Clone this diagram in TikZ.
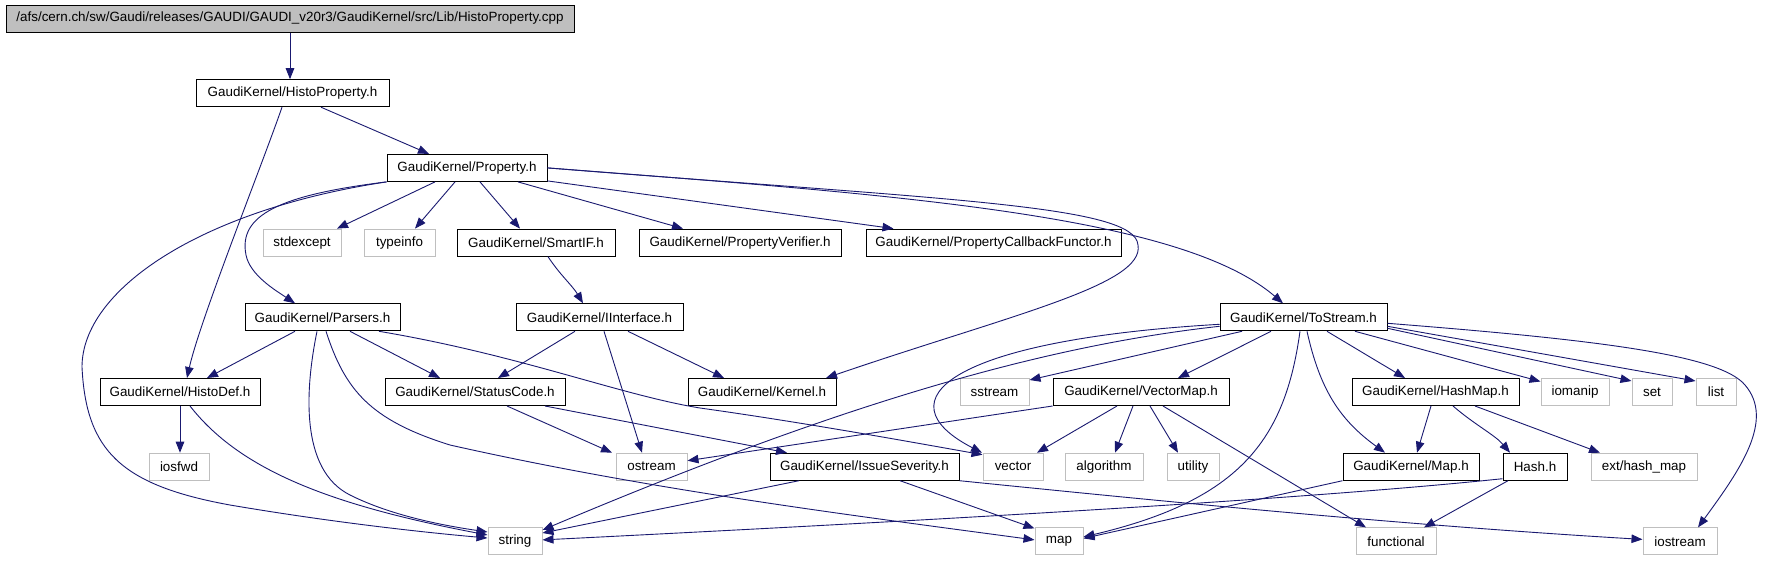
\documentclass[tikz,border=0pt]{standalone}
\usepackage{fontspec}
\usetikzlibrary{arrows.meta}
\newfontfamily\nodefont{Liberation Sans}
\definecolor{edgeblue}{HTML}{191970}
\definecolor{sysgray}{HTML}{BFBFBF}
\begin{document}
\begin{tikzpicture}[x=1pt,y=-1pt,
  hdr/.style={draw=black, line width=1pt, rectangle, minimum height=27pt, inner sep=0pt, font=\nodefont\fontsize{13.4}{15}\selectfont},
  sys/.style={hdr, draw=sysgray},
  dep/.style={draw=edgeblue, line width=0.9pt, -{Triangle[length=11pt,width=8.5pt]}, fill=none}]
\useasboundingbox[fill=white] (0,0) rectangle (1786,560);
% row 1
\node[hdr, fill=sysgray, minimum width=568pt] (cpp) at (290,18.5) {/afs/cern.ch/sw/Gaudi/releases/GAUDI/GAUDI\_v20r3/GaudiKernel/src/Lib/HistoProperty.cpp};
% row 2
\node[hdr, minimum width=193pt] (hp) at (292.5,93.2) {GaudiKernel/HistoProperty.h};
% row 3
\node[hdr, minimum width=160pt] (prop) at (467,167.9) {GaudiKernel/Property.h};
% row 4
\node[sys, minimum width=78pt] (stdexcept) at (302,242.6) {stdexcept};
\node[sys, minimum width=71pt] (typeinfo) at (399.5,242.6) {typeinfo};
\node[hdr, minimum width=158pt] (smartif) at (536,242.6) {GaudiKernel/SmartIF.h};
\node[hdr, minimum width=202pt] (pv) at (740,242.6) {GaudiKernel/PropertyVerifier.h};
\node[hdr, minimum width=255pt] (pcf) at (993.5,242.6) {GaudiKernel/PropertyCallbackFunctor.h};
% row 5
\node[hdr, minimum width=155pt] (parsers) at (322.5,317.3) {GaudiKernel/Parsers.h};
\node[hdr, minimum width=167pt] (iinterface) at (599.5,317.3) {GaudiKernel/IInterface.h};
\node[hdr, minimum width=167pt] (tostream) at (1303.5,317.3) {GaudiKernel/ToStream.h};
% row 6
\node[hdr, minimum width=160pt] (histodef) at (180,392) {GaudiKernel/HistoDef.h};
\node[hdr, minimum width=180pt] (statuscode) at (475,392) {GaudiKernel/StatusCode.h};
\node[hdr, minimum width=148pt] (kernel) at (762,392) {GaudiKernel/Kernel.h};
\node[sys, minimum width=69pt] (nsstream) at (994.5,392) {sstream};
\node[hdr, minimum width=176pt] (vectormap) at (1141,392) {GaudiKernel/VectorMap.h};
\node[hdr, minimum width=167pt] (hashmap) at (1435.5,392) {GaudiKernel/HashMap.h};
\node[sys, minimum width=68pt] (niomanip) at (1575,392) {iomanip};
\node[sys, minimum width=40pt] (nset) at (1652,392) {set};
\node[sys, minimum width=40pt] (nlist) at (1716,392) {list};
% row 7
\node[sys, minimum width=60pt] (niosfwd) at (179,466.7) {iosfwd};
\node[sys, minimum width=71pt] (nostream) at (651.5,466.7) {ostream};
\node[hdr, minimum width=189pt] (issue) at (864.5,466.7) {GaudiKernel/IssueSeverity.h};
\node[sys, minimum width=60pt] (nvector) at (1013,466.7) {vector};
\node[sys, minimum width=78pt] (nalgorithm) at (1104,466.7) {algorithm};
\node[sys, minimum width=52pt] (nutility) at (1193,466.7) {utility};
\node[hdr, minimum width=136pt] (maph) at (1411,466.7) {GaudiKernel/Map.h};
\node[hdr, minimum width=64pt] (hashh) at (1535,466.7) {Hash.h};
\node[sys, minimum width=106pt] (next) at (1644,466.7) {ext/hash\_map};
% row 8
\node[sys, minimum width=54pt] (nstring) at (515,541.4) {string};
\node[sys, minimum width=48pt] (nmap) at (1059,541.4) {map};
\node[sys, minimum width=80pt] (nfunctional) at (1396,541.4) {functional};
\node[sys, minimum width=74pt] (niostream) at (1680,541.4) {iostream};

% edges
\draw[dep] (cpp.south) -- (cpp.south |- hp.north);
\draw[dep] ([xshift=28.5pt]hp.south) -- ([xshift=-38pt]prop.north);
\draw[dep] ([xshift=-10.5pt]hp.south) .. controls (262,165) and (200,320) .. ([xshift=7pt]histodef.north);
% Property
\draw[dep] ([xshift=-32pt]prop.south) -- ([xshift=35pt]stdexcept.north);
\draw[dep] ([xshift=-12pt]prop.south) -- ([xshift=15.5pt]typeinfo.north);
\draw[dep] ([xshift=13pt]prop.south) -- ([xshift=-16pt]smartif.north);
\draw[dep] ([xshift=51pt]prop.south) -- ([xshift=-57pt]pv.north);
\draw[dep] ([yshift=1pt]prop.south east) -- ([xshift=-100pt]pcf.north);
\draw[dep] (prop.east) .. controls (900,195) and (1180,215) .. ([xshift=-20.5pt]tostream.north);
\draw[dep] (prop.east) .. controls (950,200) and (1135,205) .. (1138,245) .. controls (1145,285) and (1010,315) .. ([xshift=64pt]kernel.north);
\draw[dep] (prop.south west) .. controls (200,210) and (82,290) .. (82,367) .. controls (86,450) and (120,485) .. (230,505) .. controls (330,522) and (420,532) .. ([yshift=3.4pt]nstring.west);
\draw[dep] (prop.south west) .. controls (280,195) and (238,215) .. (246,255) .. controls (250,275) and (275,290) .. ([xshift=-27.5pt]parsers.north);
% Parsers
\draw[dep] ([xshift=-27.5pt]parsers.south) -- ([xshift=27pt]histodef.north);
\draw[dep] ([xshift=27.5pt]parsers.south) -- ([xshift=-35pt]statuscode.north);
\draw[dep] ([xshift=-5.5pt]parsers.south) .. controls (305,390) and (300,470) .. (350,495) .. controls (390,515) and (440,525) .. ([yshift=9.4pt]nstring.west);
\draw[dep] ([xshift=3.5pt]parsers.south) .. controls (345,390) and (370,420) .. (450,445) .. controls (650,490) and (850,515) .. ([yshift=1.5pt]nmap.west);
\draw[dep] ([xshift=56.5pt]parsers.south) .. controls (520,355) and (620,395) .. (700,408) .. controls (800,422) and (900,440) .. ([yshift=-2pt]nvector.north west);
% StatusCode, IInterface, SmartIF
\draw[dep] ([xshift=32pt]statuscode.south) -- ([xshift=-39.5pt]nostream.north);
\draw[dep] ([xshift=70pt]statuscode.south) -- ([xshift=-77.5pt]issue.north);
\draw[dep] ([xshift=-24.5pt]iinterface.south) -- ([xshift=23pt]statuscode.north);
\draw[dep] ([xshift=4.5pt]iinterface.south) -- ([xshift=-9.5pt]nostream.north);
\draw[dep] ([xshift=28.5pt]iinterface.south) -- ([xshift=-38pt]kernel.north);
\draw[dep] ([xshift=12pt]smartif.south) .. controls (560,275) and (572,285) .. ([xshift=-16.5pt]iinterface.north);
% HistoDef
\draw[dep] (histodef.south) -- (histodef.south |- niosfwd.north);
\draw[dep] ([xshift=10pt]histodef.south) .. controls (240,470) and (330,505) .. ([yshift=6.4pt]nstring.west);
% ToStream
\draw[dep] ([yshift=5pt]tostream.south west) .. controls (1050,345) and (850,400) .. ([yshift=11.4pt]nstring.east);
\draw[dep] ([yshift=7pt]tostream.south west) .. controls (950,340) and (880,400) .. ([xshift=-31pt]nvector.north);
\draw[dep] ([xshift=-61.5pt]tostream.south) -- ([yshift=-2pt]nsstream.north east);
\draw[dep] ([xshift=-32.5pt]tostream.south) -- ([xshift=37pt]vectormap.north);
\draw[dep] ([xshift=-3.5pt]tostream.south) .. controls (1285,440) and (1240,500) .. ([yshift=4.5pt]nmap.east);
\draw[dep] ([xshift=3.5pt]tostream.south) .. controls (1320,390) and (1340,420) .. ([xshift=-26pt]maph.north);
\draw[dep] ([xshift=23.5pt]tostream.south) -- ([xshift=-30.5pt]hashmap.north);
\draw[dep] ([xshift=51.5pt]tostream.south) -- ([yshift=-3.5pt]niomanip.north west);
\draw[dep] ([yshift=3pt]tostream.south east) -- ([yshift=-3pt]nset.north west);
\draw[dep] ([yshift=5pt]tostream.south east) -- ([yshift=-3pt]nlist.north west);
\draw[dep] ([yshift=8pt]tostream.south east) .. controls (1600,340) and (1720,355) .. (1745,385) .. controls (1775,420) and (1740,470) .. ([xshift=18pt]niostream.north);
% HashMap, Map.h, Hash.h
\draw[dep] ([xshift=-4.5pt]hashmap.south) -- ([xshift=6pt]maph.north);
\draw[dep] ([xshift=17.5pt]hashmap.south) .. controls (1475,425) and (1495,435) .. ([xshift=-25pt]hashh.north);
\draw[dep] ([xshift=39.5pt]hashmap.south) -- ([xshift=-44pt]next.north);
\draw[dep] (maph.south west) -- ([yshift=3pt]nmap.east);
\draw[dep] ([yshift=2pt]hashh.south west) .. controls (1300,500) and (900,522) .. ([yshift=1.5pt]nstring.east);
\draw[dep] ([xshift=-27pt]hashh.south) -- ([xshift=28pt]nfunctional.north);
% VectorMap
\draw[dep] ([xshift=22pt]vectormap.south) -- ([xshift=-30pt]nfunctional.north);
\draw[dep] (vectormap.south west) -- ([yshift=6pt]nostream.east);
\draw[dep] ([xshift=-24pt]vectormap.south) -- ([xshift=24pt]nvector.north);
\draw[dep] ([xshift=-8pt]vectormap.south) -- ([xshift=11pt]nalgorithm.north);
\draw[dep] ([xshift=9pt]vectormap.south) -- ([xshift=-15pt]nutility.north);
% IssueSeverity
\draw[dep] ([xshift=-65.5pt]issue.south) -- ([yshift=8.4pt]nstring.east);
\draw[dep] ([xshift=35.5pt]issue.south) -- ([yshift=-1pt]nmap.north west);
\draw[dep] (issue.south east) .. controls (1150,500) and (1400,525) .. ([yshift=2pt]niostream.west);
\end{tikzpicture}
\end{document}
